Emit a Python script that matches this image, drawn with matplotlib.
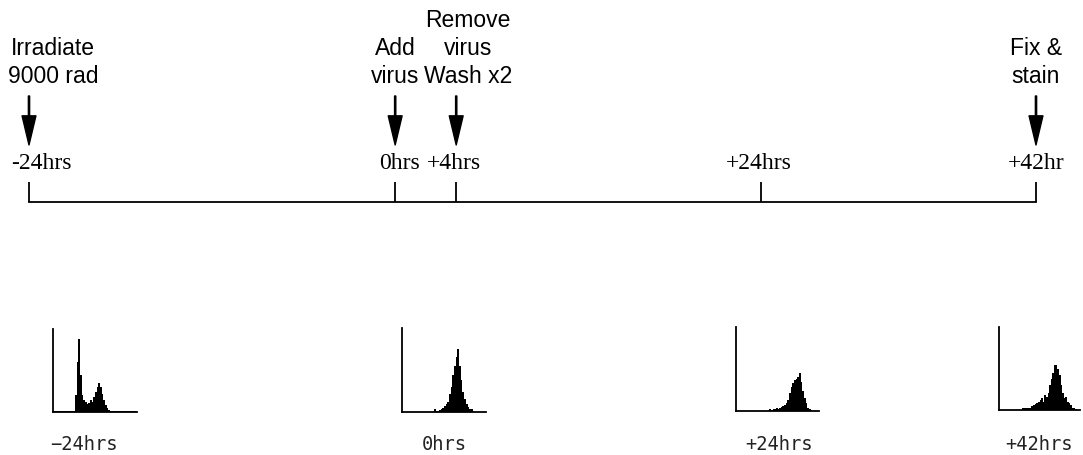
import numpy as np
import matplotlib
matplotlib.use("Agg")
import matplotlib.pyplot as plt

# Timeline data
tick_hours = [-24, 0, 4, 24, 42]
tick_labels = ["-24hrs", "0hrs", "+4hrs", "+24hrs", "+42hr"]
event_hours = [-24, 0, 4, 42]
event_labels = [["Irradiate", "9000 rad"],
                ["Add", "virus"],
                ["Remove", "virus", "Wash x2"],
                ["Fix &", "stain"]]

# DNA content histograms (relative bin heights, 50 bins each)
hist_labels = ["\u221224hrs", "0hrs", "+24hrs", "+42hrs"]
hist_m24 = [0.008] * 13 + [0.2, 0.6, 0.88, 0.45, 0.2, 0.15, 0.12, 0.1, 0.11, 0.15,
                            0.12, 0.18, 0.24, 0.3, 0.35, 0.3, 0.22, 0.14, 0.08, 0.05,
                            0.03, 0.015] + [0.008] * 15
hist_0 = [0.005] * 19 + [0.03, 0.01, 0.01, 0.02, 0.04, 0.05, 0.07, 0.09, 0.12, 0.22,
                         0.3, 0.44, 0.55, 0.66, 0.75, 0.55, 0.38, 0.24, 0.15, 0.09,
                         0.06, 0.04, 0.03, 0.015] + [0.005] * 7
hist_24 = [0.005] * 20 + [0.02, 0.015, 0.02, 0.02, 0.03, 0.025, 0.04, 0.045, 0.06, 0.07,
                          0.09, 0.13, 0.22, 0.28, 0.33, 0.37, 0.38, 0.4, 0.45, 0.35,
                          0.24, 0.15, 0.09, 0.04, 0.025, 0.015] + [0.005] * 4
hist_42 = [0.005] * 14 + [0.02, 0.03, 0.02, 0.02, 0.03, 0.03, 0.05, 0.06, 0.07, 0.08,
                          0.1, 0.12, 0.14, 0.1, 0.18, 0.16, 0.2, 0.3, 0.37, 0.44,
                          0.54, 0.54, 0.5, 0.42, 0.3, 0.2, 0.14, 0.16, 0.1, 0.08,
                          0.06, 0.03, 0.02, 0.015] + [0.005] * 2
hists = [hist_m24, hist_0, hist_24, hist_42]

# layout (pixels)
W, H = 1083, 455
px_per_hr = 1007 / 66
x0_px = 29
label_dx = [24, 0, 12, 0]
tick_dx = [12, 4, -2, -3, 0]
hist_boxes = [(53, 329, 137, 412), (402, 328, 486, 412),
              (736, 327, 819, 411), (999, 327, 1080, 410)]
hist_label_x = [84, 444, 779, 1039]

fig = plt.figure(figsize=(W / 100, H / 100), dpi=100)
ax = fig.add_axes([0, 0, 1, 1])
ax.set_xlim(-24 - x0_px / px_per_hr, -24 + (W - x0_px) / px_per_hr)
ax.set_ylim(H, 0)
ax.axis("off")

sans = "Liberation Sans"
serif = "Liberation Serif"

# timeline
ax.plot([tick_hours[0], tick_hours[-1]], [202, 202], color="k", lw=1.3)
ax.vlines(tick_hours, 182, 202, color="k", lw=1.3)
for h, lab, dx in zip(tick_hours, tick_labels, tick_dx):
    ax.text(h + dx / px_per_hr, 169, lab, ha="center", va="baseline",
            fontsize=17, family=serif)

# events: arrows and labels
for h, lines, dx in zip(event_hours, event_labels, label_dx):
    ax.annotate("", xy=(h, 145), xytext=(h, 96),
                arrowprops=dict(width=0.9, headwidth=10, headlength=21,
                                shrink=0, color="k"))
    n = len(lines)
    for i, line in enumerate(lines):
        ax.text(h + dx / px_per_hr, 83 - 28 * (n - 1 - i), line,
                ha="center", va="baseline", fontsize=16.5, family=sans)

# histograms
for vals, box, lab, lx in zip(hists, hist_boxes, hist_labels, hist_label_x):
    l, t, r, b = box
    hax = fig.add_axes([l / W, (H - b) / H, (r - l) / W, (b - t) / H])
    edges = np.arange(len(vals) + 1)
    hax.stairs(vals, edges, fill=True, color="k")
    hax.set_xlim(0, len(vals))
    hax.set_ylim(0, 1)
    hax.set_xticks([])
    hax.set_yticks([])
    for s in ["top", "right"]:
        hax.spines[s].set_visible(False)
    for s in ["left", "bottom"]:
        hax.spines[s].set_linewidth(1.3)
    hax.patch.set_alpha(0)
    fig.text(lx / W, (H - 450) / H, lab, ha="center", va="baseline",
             fontsize=13.5, family="DejaVu Sans Mono", color="#222222")

fig.savefig("out.png", dpi=100)
